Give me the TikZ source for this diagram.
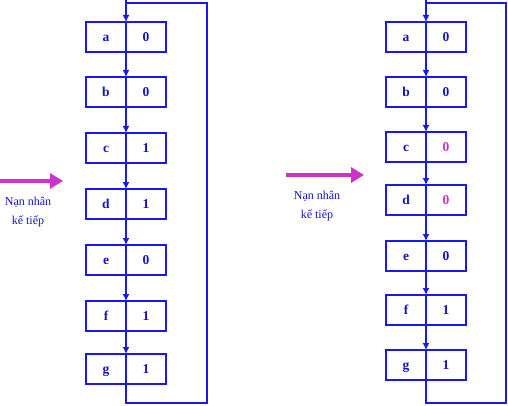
\documentclass[tikz,border=0pt]{standalone}
\usepackage{fontspec}
\setmainfont{Liberation Serif}
\usepackage{xcolor}
\usetikzlibrary{arrows.meta}
\definecolor{linkblue}{RGB}{25,25,235}
\definecolor{textblue}{RGB}{20,20,190}
\definecolor{victim}{RGB}{205,50,205}

\begin{document}
\begin{tikzpicture}[x=1pt,y=-1pt,>={Latex[length=7pt,width=7pt]},
     kb/.style={rectangle,draw=linkblue,line width=2pt,outer sep=0pt,minimum width=40pt,minimum height=30pt,inner sep=0pt,
       text height=9.5pt,text depth=0pt,font=\fontsize{13.5}{15}\selectfont\bfseries,text=textblue},
     link/.style={draw=linkblue,line width=2pt,->},
     ring/.style={draw=linkblue,line width=2pt},
     pointer/.style={draw=victim,line width=3.5pt,-{Triangle[length=13pt,width=15pt]}},
     lbl/.style={align=center,text=textblue,font=\fontsize{12}{19}\selectfont}]
    \useasboundingbox (0,0) rectangle (508,406);
    % left clock
    \foreach \k/\v/\y in {a/0/37,b/0/92,c/1/148,d/1/204,e/0/260,f/1/316,g/1/369}{
      \node[kb] (lk-\k) at (106,\y) {\k};
      \node[kb] (lv-\k) at (146,\y) {\v};
    }
    \foreach \p/\n in {a/b,b/c,c/d,d/e,e/f,f/g}
      \draw[link] (lk-\p.south east) -- (lk-\n.north east);
    \coordinate (lloop-se) at (207,403);
    \coordinate (lloop-ne) at (207,3);
    \coordinate (lloop-nw) at (126,3);
    \draw[ring] (lk-g.south east) |- (lloop-se) -- (lloop-ne) -- (lloop-nw) -- ++(0,-3);
    \draw[link] (lloop-nw) -- (lk-a.north east);
    \coordinate (lvic-from) at (0,181);
    \coordinate (lvic-to) at (63,181);
    \draw[pointer] (lvic-from) -- (lvic-to);
    \node[lbl] (lvic-txt) at (28,212) {Nạn nhân\\kế tiếp};
    % right clock
    \foreach \k/\v/\y/\c in {a/0/37/textblue,b/0/92/textblue,c/0/147/victim,d/0/200/victim,e/0/256/textblue,f/1/310/textblue,g/1/365/textblue}{
      \node[kb] (rk-\k) at (406,\y) {\k};
      \node[kb,text=\c] (rv-\k) at (446,\y) {\v};
    }
    \foreach \p/\n in {a/b,b/c,c/d,d/e,e/f,f/g}
      \draw[link] (rk-\p.south east) -- (rk-\n.north east);
    \coordinate (rloop-se) at (506,403);
    \coordinate (rloop-ne) at (506,3);
    \coordinate (rloop-nw) at (426,3);
    \draw[ring] (rk-g.south east) |- (rloop-se) -- (rloop-ne) -- (rloop-nw) -- ++(0,-3);
    \draw[link] (rloop-nw) -- (rk-a.north east);
    \coordinate (rvic-from) at (286,175);
    \coordinate (rvic-to) at (364,175);
    \draw[pointer] (rvic-from) -- (rvic-to);
    \node[lbl] (rvic-txt) at (317,206) {Nạn nhân\\kế tiếp};
  \end{tikzpicture}
\end{document}
